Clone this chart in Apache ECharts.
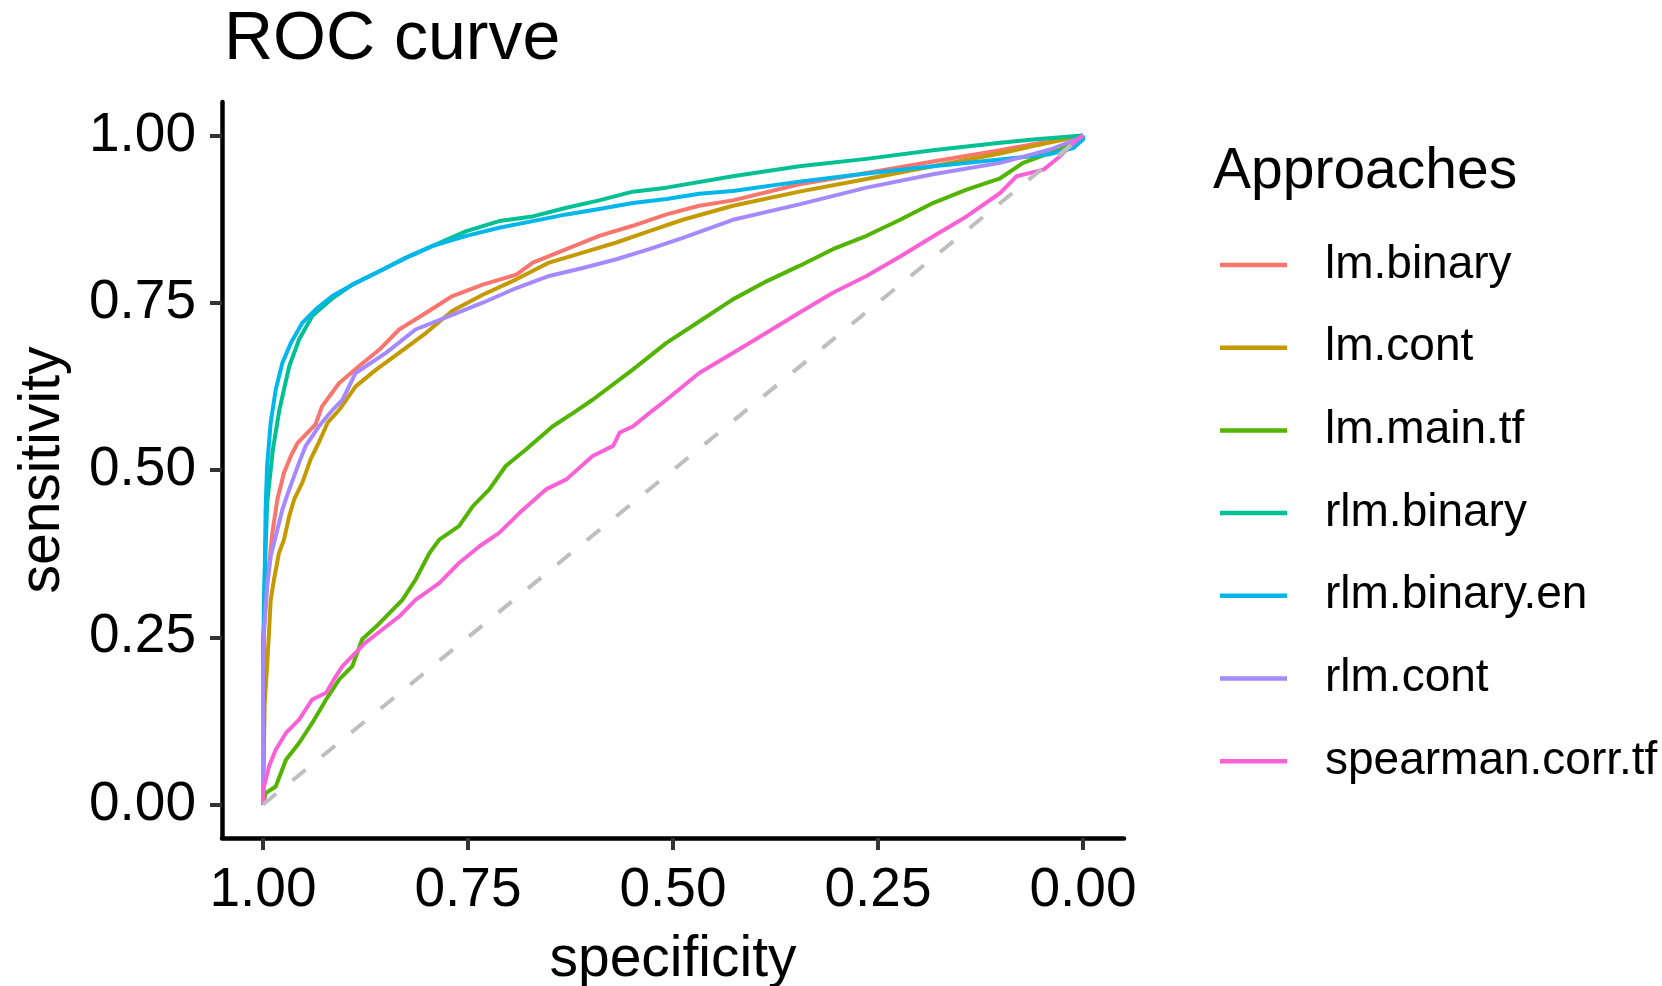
<!DOCTYPE html>
<html>
<head>
<meta charset="utf-8">
<script src="https://cdn.jsdelivr.net/npm/echarts@6/dist/echarts.min.js"></script>
<style>
html,body{margin:0;padding:0;background:#fff;}
#chart{width:1662px;height:986px;}
</style>
</head>
<body>
<div id="chart"></div>
<script>
// ---- data: [specificity, sensitivity] ----
const seriesNames = ['lm.binary','lm.cont','lm.main.tf','rlm.binary','rlm.binary.en','rlm.cont','spearman.corr.tf'];
const seriesColors = ['#F8766D','#C49A00','#53B400','#00C094','#00B6EB','#A58AFF','#FB61D7'];
const tickValues = [0, 0.25, 0.5, 0.75, 1];
const tickLabels = ['0.00','0.25','0.50','0.75','1.00'];

const lmBinary = [[1,0],[1,0.25],[0.995,0.33],[0.9927,0.356],[0.9886,0.406],[0.9825,0.456],[0.9744,0.496],[0.966,0.521],[0.958,0.540],[0.948,0.553],[0.936,0.568],[0.928,0.595],[0.907,0.630],[0.883,0.655],[0.858,0.680],[0.834,0.710],[0.801,0.735],[0.769,0.760],[0.732,0.777],[0.691,0.792],[0.671,0.810],[0.630,0.830],[0.590,0.850],[0.549,0.865],[0.508,0.882],[0.468,0.895],[0.427,0.903],[0.346,0.927],[0.264,0.944],[0.183,0.961],[0.101,0.978],[0.061,0.987],[0,1]];
const lmCont = [[1,0],[0.998,0.15],[0.995,0.207],[0.9927,0.257],[0.9906,0.306],[0.9866,0.336],[0.9805,0.376],[0.9744,0.396],[0.968,0.431],[0.962,0.456],[0.952,0.481],[0.942,0.516],[0.932,0.541],[0.921,0.571],[0.907,0.590],[0.887,0.625],[0.862,0.650],[0.834,0.675],[0.801,0.705],[0.769,0.738],[0.732,0.762],[0.691,0.785],[0.651,0.810],[0.610,0.825],[0.569,0.840],[0.529,0.857],[0.488,0.874],[0.427,0.895],[0.346,0.916],[0.264,0.935],[0.183,0.954],[0.101,0.973],[0.061,0.984],[0,1]];
const lmMainTf = [[1,0],[0.9967,0.017],[0.9845,0.027],[0.972,0.067],[0.956,0.092],[0.940,0.122],[0.923,0.157],[0.907,0.187],[0.891,0.207],[0.879,0.247],[0.862,0.266],[0.850,0.281],[0.830,0.306],[0.814,0.336],[0.797,0.376],[0.785,0.396],[0.761,0.416],[0.744,0.446],[0.724,0.471],[0.704,0.506],[0.679,0.531],[0.647,0.565],[0.622,0.585],[0.598,0.605],[0.549,0.650],[0.508,0.690],[0.468,0.722],[0.427,0.755],[0.386,0.782],[0.346,0.805],[0.305,0.830],[0.264,0.850],[0.223,0.874],[0.183,0.899],[0.142,0.919],[0.101,0.936],[0.073,0.959],[0.040,0.974],[0.012,0.991],[0,1]];
const rlmBinary = [[1,0],[0.999,0.30],[0.995,0.45],[0.988,0.53],[0.980,0.590],[0.968,0.655],[0.956,0.695],[0.940,0.730],[0.915,0.757],[0.891,0.777],[0.858,0.797],[0.826,0.817],[0.793,0.835],[0.752,0.857],[0.712,0.872],[0.671,0.879],[0.630,0.892],[0.590,0.903],[0.549,0.916],[0.508,0.922],[0.427,0.939],[0.346,0.954],[0.264,0.965],[0.183,0.978],[0.101,0.989],[0.061,0.994],[0,1]];
const rlmBinaryEn = [[1,0],[0.999,0.25],[0.998,0.34],[0.9967,0.446],[0.995,0.506],[0.9906,0.571],[0.9845,0.620],[0.9764,0.660],[0.966,0.690],[0.952,0.720],[0.9357,0.740],[0.9154,0.760],[0.891,0.777],[0.858,0.797],[0.826,0.817],[0.793,0.835],[0.752,0.850],[0.712,0.862],[0.671,0.872],[0.630,0.882],[0.590,0.890],[0.549,0.899],[0.508,0.905],[0.468,0.913],[0.427,0.917],[0.346,0.931],[0.264,0.943],[0.183,0.954],[0.101,0.964],[0.040,0.972],[0.012,0.981],[0,0.994],[0,1]];
const rlmCont = [[1,0],[1,0.18],[0.9988,0.256],[0.995,0.326],[0.9906,0.371],[0.9845,0.401],[0.9764,0.441],[0.968,0.471],[0.956,0.511],[0.948,0.536],[0.932,0.565],[0.915,0.590],[0.903,0.605],[0.887,0.645],[0.850,0.675],[0.814,0.710],[0.773,0.730],[0.732,0.750],[0.691,0.772],[0.651,0.790],[0.610,0.802],[0.569,0.815],[0.529,0.830],[0.488,0.847],[0.427,0.874],[0.346,0.897],[0.264,0.922],[0.183,0.942],[0.101,0.959],[0.040,0.979],[0.004,0.996],[0,1]];
const spearmanCorrTf = [[1,0],[0.9988,0.027],[0.9927,0.057],[0.9845,0.082],[0.972,0.107],[0.956,0.127],[0.940,0.157],[0.923,0.167],[0.911,0.192],[0.903,0.207],[0.887,0.227],[0.875,0.242],[0.854,0.262],[0.834,0.281],[0.814,0.306],[0.785,0.331],[0.761,0.361],[0.736,0.386],[0.712,0.406],[0.687,0.436],[0.655,0.471],[0.630,0.486],[0.598,0.521],[0.573,0.536],[0.565,0.556],[0.549,0.565],[0.529,0.585],[0.508,0.605],[0.468,0.645],[0.427,0.675],[0.386,0.705],[0.346,0.735],[0.305,0.765],[0.264,0.790],[0.223,0.819],[0.183,0.849],[0.142,0.879],[0.101,0.914],[0.081,0.939],[0.048,0.949],[0.028,0.969],[0.012,0.989],[0,1]];
const chanceLine = [[1,0],[0,1]];

const seriesData = [lmBinary, lmCont, lmMainTf, rlmBinary, rlmBinaryEn, rlmCont, spearmanCorrTf];

const FONT = 'Liberation Sans, Arial, sans-serif';
const chart = echarts.init(document.getElementById('chart'), null, {renderer:'canvas'});

function axisCommon(margin) {
  return {
    type: 'value', min: -0.05, max: 1.05,
    splitLine: {show:false},
    axisLine: {show:true, onZero:false, lineStyle:{color:'#000', width:4.5}},
    axisTick: {show:true, customValues: tickValues, length: 12, lineStyle:{color:'#333', width:4}},
    axisLabel: {show:true, customValues: tickValues, color:'#000', fontSize:55, fontFamily:FONT, margin: margin,
      formatter: v => { const i = tickValues.indexOf(Math.round(v*100)/100); return i >= 0 ? tickLabels[i] : v.toFixed(2); }},
    nameTextStyle: {color:'#000', fontSize:57, fontFamily:FONT},
    nameLocation: 'middle'
  };
}

const series = seriesNames.map((n,i) => ({
  name: n, type:'line', data: seriesData[i], showSymbol:false, symbol:'none',
  lineStyle:{color:seriesColors[i], width:4, join:'round'}, itemStyle:{color:seriesColors[i]},
  animation:false, z: 2+i
}));
series.push({
  name:'chance', type:'line', data: chanceLine, showSymbol:false, symbol:'none',
  lineStyle:{color:'#BEBEBE', width:4, type:[17,21]}, animation:false, z: 20, silent:true
});

const option = {
  animation:false,
  backgroundColor:'#fff',
  title: {text:'ROC curve', left:224, top:6, padding:0,
    textStyle:{color:'#000', fontSize:68, fontWeight:'normal', fontFamily:FONT}},
  grid: {left:222, right:538, top:102, bottom:148, containLabel:false, outerBoundsMode:'none'},
  xAxis: Object.assign(axisCommon(25), {inverse:true, name:'specificity', nameGap:94}),
  yAxis: Object.assign(axisCommon(26), {name:'sensitivity', nameGap:150, nameRotate:90}),
  legend: {
    data: seriesNames, orient:'vertical', left:1220, top:240, padding:0,
    icon:'rect', itemWidth:67, itemHeight:4.5, itemGap:32.7,
    textStyle:{color:'#000', fontSize:46, fontFamily:FONT, lineHeight:50, padding:[0,0,0,33]},
    selectedMode:false
  },
  graphic: [{type:'text', left:1213, top:144,
    style:{text:'Approaches', fill:'#000', font:'57px ' + FONT}}],
  series: series
};
chart.setOption(option);
</script>
</body>
</html>
